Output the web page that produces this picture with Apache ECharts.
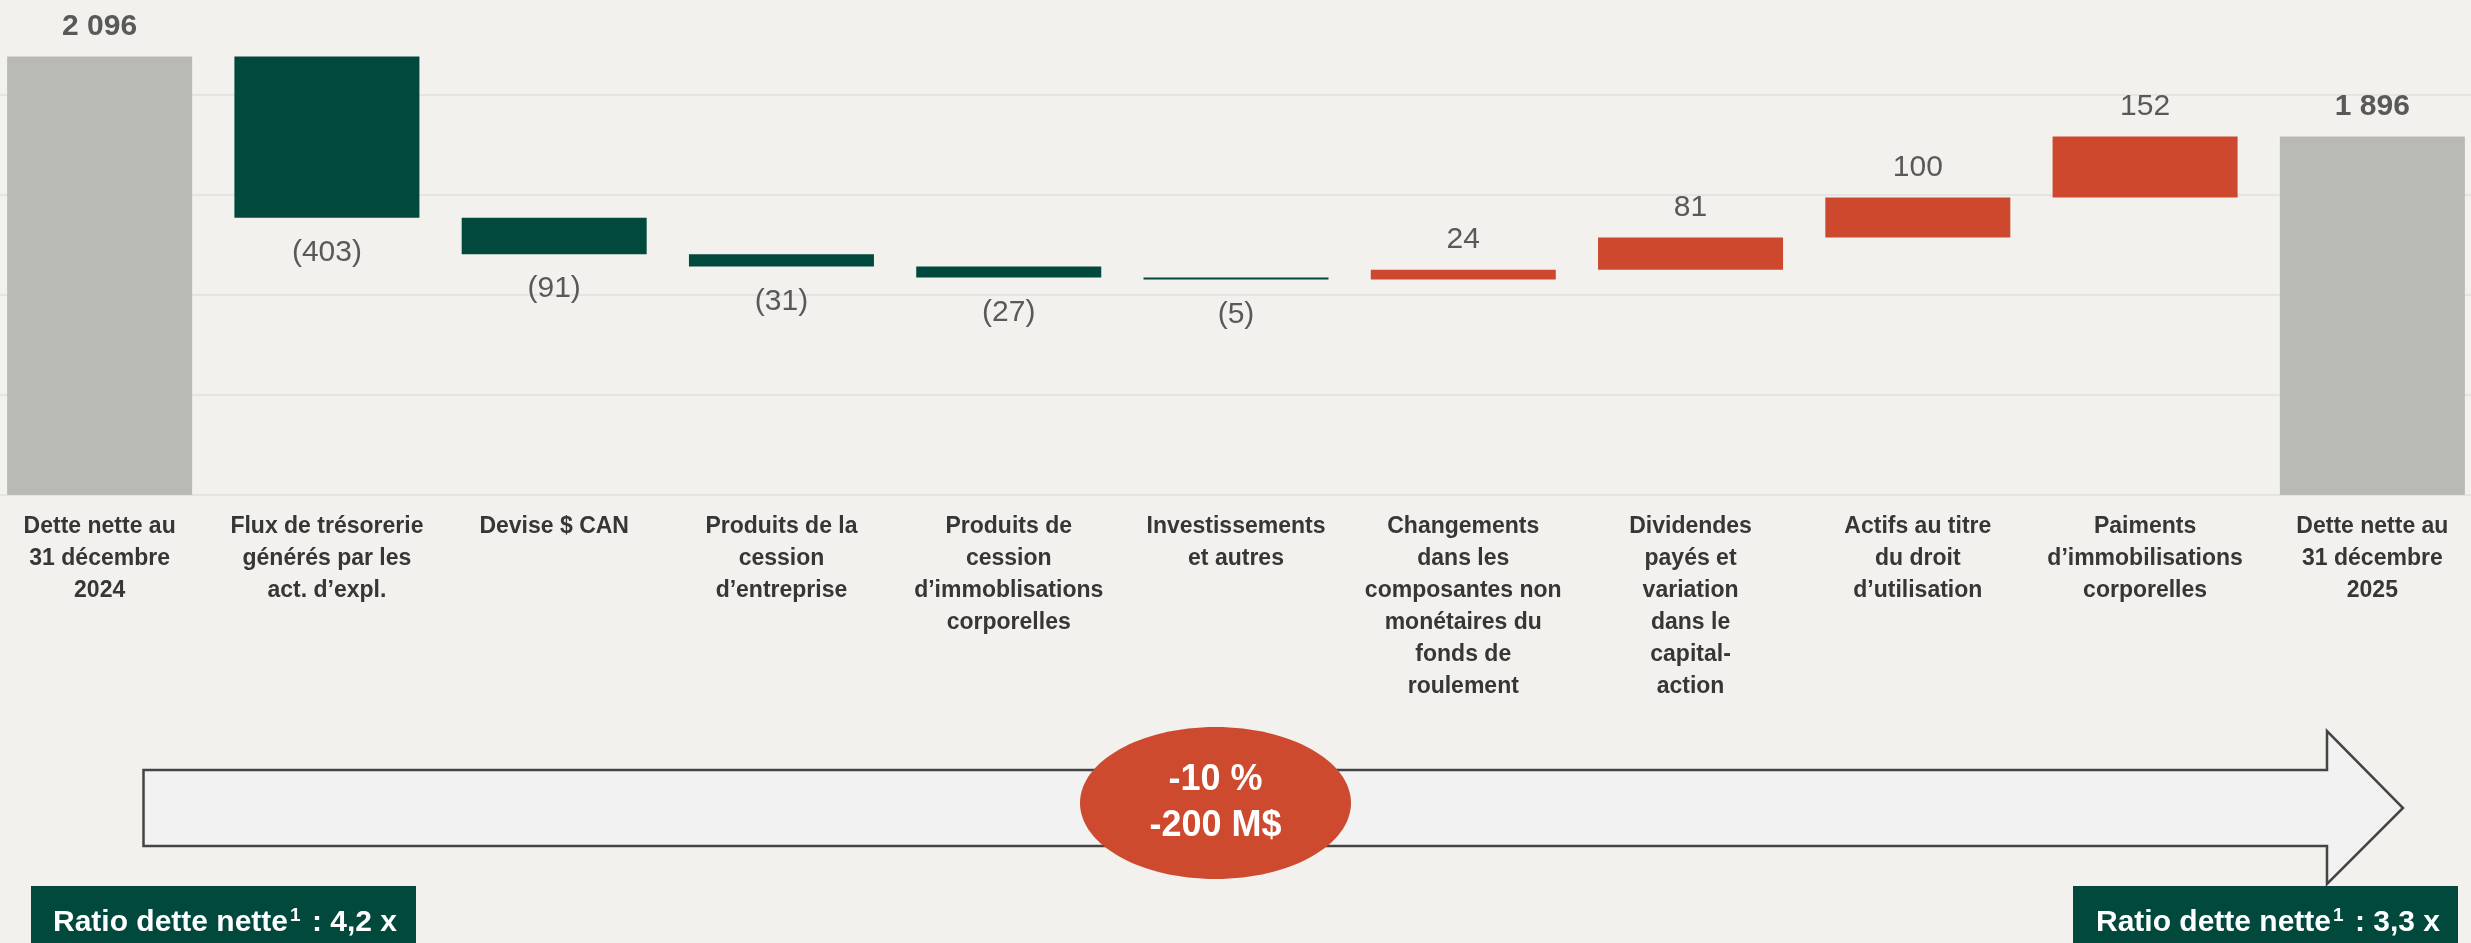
<!DOCTYPE html>
<html>
<head>
<meta charset="utf-8">
<script src="https://cdn.jsdelivr.net/npm/echarts/dist/echarts.min.js"></script>
<style>
  html, body { margin: 0; padding: 0; background: #f2f1ed; overflow: hidden; }
  /* le graphique déborde un peu de la fenêtre, comme l'original */
  #chart { position: absolute; left: -14px; top: -5px; width: 2500px; height: 948px; }
</style>
</head>
<body>
<div id="chart"></div>
<script>
    // catégories du pont de la dette nette
    const categories = [
        'Dette nette au\n31 décembre\n2024',
        'Flux de trésorerie\ngénérés par les\nact. d’expl.',
        'Devise $ CAN',
        'Produits de la\ncession\nd’entreprise',
        'Produits de\ncession\nd’immoblisations\ncorporelles',
        'Investissements\net autres',
        'Changements\ndans les\ncomposantes non\nmonétaires du\nfonds de\nroulement',
        'Dividendes\npayés et\nvariation\ndans le\ncapital-\naction',
        'Actifs au titre\ndu droit\nd’utilisation',
        'Paiments\nd’immobilisations\ncorporelles',
        'Dette nette au\n31 décembre\n2025'
    ];
    // M$ : totaux aux extrémités, variations entre les deux
    const values = [2096, -403, -91, -31, -27, -5, 24, 81, 100, 152, 1896];
    const isTotal = [true, false, false, false, false, false, false, false, false, false, true];
    const yTicks = { min: 1000, max: 2250, interval: 250 };
    const ratios = ['4,2 x', '3,3 x'];

    const GREEN = '#00493c';
    const RED = '#cd482d';
    const GREY = '#b9bab3';
    const SANS = "'Liberation Sans', Arial, sans-serif";

    const fmt = v => {
        const s = String(Math.abs(v)).replace(/\B(?=(\d{3})+(?!\d))/g, ' ');
        return v < 0 ? `(${s})` : s;
    };

    // base invisible + barre visible (cascade)
    const baseData = [];
    const barData = [];
    let running = 0;
    values.forEach((v, i) => {
        if (isTotal[i]) {
            running = v;
            baseData.push(0);
            barData.push({
                value: v,
                itemStyle: { color: GREY },
                label: { position: 'top', fontWeight: 'bold', distance: 15 }
            });
        } else {
            const next = running + v;
            baseData.push(Math.min(running, next));
            barData.push({
                value: Math.abs(v),
                itemStyle: { color: v < 0 ? GREEN : RED },
                label: { position: v < 0 ? 'bottom' : 'top', distance: v < 0 ? 20 : 15 }
            });
            running = next;
        }
    });

    // encadré vert « Ratio dette nette¹ »
    const ratioBox = (x, cx, txt) => ([
        {
            type: 'rect',
            shape: { x, y: 886, width: 385, height: 60 },
            style: { fill: GREEN }
        },
        {
            type: 'text',
            x: cx,
            y: 923,
            style: {
                text: `Ratio dette nette{sup|1} : ${txt}`,
                fill: '#ffffff',
                fontFamily: SANS,
                fontWeight: 'bold',
                fontSize: 30,
                lineHeight: 33,
                align: 'center',
                verticalAlign: 'middle',
                rich: {
                    sup: {
                        fill: '#ffffff',
                        fontFamily: SANS,
                        fontWeight: 'bold',
                        fontSize: 19,
                        lineHeight: 20,
                        verticalAlign: 'top',
                        padding: [0, 3, 0, 2]
                    }
                }
            }
        }
    ]);

    const chart = echarts.init(document.getElementById('chart'));
    const option = {
        backgroundColor: '#f2f1ed',
        animation: false,
        grid: { left: 0, right: 0, top: 0, bottom: 448, containLabel: false },
        xAxis: {
            type: 'category',
            data: categories,
            axisLine: { show: false },
            axisTick: { show: false },
            axisLabel: {
                interval: 0,
                margin: 16,
                color: '#363636',
                fontFamily: SANS,
                fontWeight: 'bold',
                fontSize: 23,
                lineHeight: 32,
                align: 'center',
                verticalAlign: 'top'
            }
        },
        yAxis: {
            type: 'value',
            min: yTicks.min,
            max: yTicks.max,
            interval: yTicks.interval,
            axisLabel: { show: false },
            axisLine: { show: false },
            axisTick: { show: false },
            splitLine: { lineStyle: { color: '#e4e4e2', width: 2 } }
        },
        series: [
            {
                type: 'bar',
                stack: 'wf',
                data: baseData,
                barWidth: 185,
                itemStyle: { color: 'transparent' },
                silent: true
            },
            {
                type: 'bar',
                stack: 'wf',
                data: barData,
                barWidth: 185,
                label: {
                    show: true,
                    color: '#595959',
                    fontFamily: SANS,
                    fontSize: 30,
                    formatter: p => fmt(values[p.dataIndex])
                }
            }
        ],
        graphic: [{
            type: 'group',
            x: 14,
            y: 5,
            children: [
                {
                    type: 'polygon',
                    shape: {
                        points: [[143.5, 770], [2327, 770], [2327, 731], [2403, 808],
                                 [2327, 884], [2327, 846], [143.5, 846]]
                    },
                    style: { fill: '#f2f2f2', stroke: '#444444', lineWidth: 2.5 }
                },
                {
                    type: 'ellipse',
                    shape: { cx: 1215.5, cy: 803, rx: 135.5, ry: 76 },
                    style: { fill: '#cd4a2e' }
                },
                {
                    type: 'text',
                    x: 1215.5,
                    y: 803,
                    style: {
                        text: '-10 %\n-200 M$',
                        fill: '#ffffff',
                        fontFamily: SANS,
                        fontWeight: 'bold',
                        fontSize: 36,
                        lineHeight: 46,
                        align: 'center',
                        verticalAlign: 'middle'
                    }
                },
                ...ratioBox(31, 225, ratios[0]),
                ...ratioBox(2073, 2268, ratios[1])
            ]
        }]
    };
    chart.setOption(option);
</script>
</body>
</html>
